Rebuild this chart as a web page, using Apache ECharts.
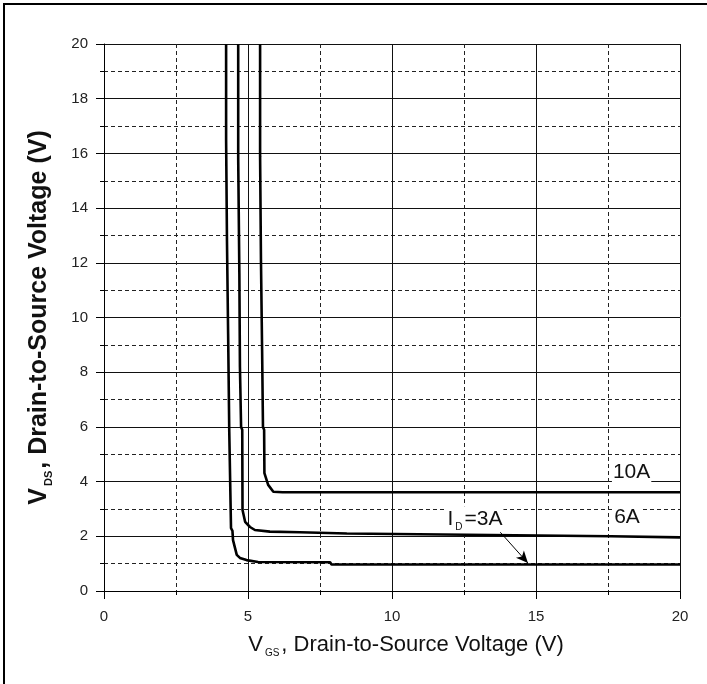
<!DOCTYPE html>
<html>
<head>
<meta charset="utf-8">
<script src="https://cdn.jsdelivr.net/npm/echarts@6/dist/echarts.min.js"></script>
<style>html,body{margin:0;padding:0;background:#fff}#c{width:707px;height:684px}</style>
</head>
<body>
<div id="c"></div>
<script>
// ---- data ----
const xTicks = [0, 5, 10, 15, 20];
const yTicks = [0, 2, 4, 6, 8, 10, 12, 14, 16, 18, 20];
const seriesNames = ['3A', '6A', '10A'];
// [VGS, VDS] points
const curve3A = [[4.24,20],[4.24,16.5],[4.27,16.5],[4.27,12.8],[4.31,12.8],[4.31,9.4],[4.35,9.4],[4.35,5.8],[4.41,5.8],[4.41,2.3],[4.46,2.2],[4.48,1.86],[4.61,1.32],[4.72,1.21],[4.95,1.13],[5.35,1.06],[7.85,1.05],[7.9,0.97],[20,0.97]];
const curve6A = [[4.66,20],[4.66,15.8],[4.70,15.8],[4.70,11.6],[4.72,11.6],[4.72,8.2],[4.76,8.2],[4.76,6.0],[4.80,5.9],[4.81,2.96],[4.90,2.53],[5.07,2.34],[5.24,2.23],[5.76,2.17],[6.8,2.15],[6.8,2.12],[8.43,2.1],[8.45,2.03],[17.6,2.0],[17.6,1.96],[20,1.96]];
const curve10A = [[5.42,20],[5.42,15.9],[5.45,15.9],[5.45,12.1],[5.49,12.1],[5.49,8.8],[5.52,8.8],[5.52,6.0],[5.56,5.9],[5.57,4.31],[5.70,3.88],[5.88,3.63],[6.2,3.61],[20,3.61]];
const curves = [curve3A, curve6A, curve10A];

const FONT = "'Liberation Sans Narrow', 'Arial Narrow', 'Liberation Sans', Arial, sans-serif";
const chart = echarts.init(document.getElementById('c'), null, {renderer: 'canvas'});

function axisCommon(ticks) {
  return {
    type: 'value',
    min: ticks[0],
    max: ticks[ticks.length - 1],
    interval: ticks[1] - ticks[0],
    axisLine: {show: true, lineStyle: {color: '#000', width: 1}},
    axisTick: {show: true, inside: false, length: 8, lineStyle: {color: '#000', width: 1}},
    minorTick: {show: true, splitNumber: 2, length: 4, lineStyle: {color: '#000', width: 1}},
    splitLine: {show: true, lineStyle: {color: '#111', width: 1, type: 'solid'}},
    minorSplitLine: {show: true, lineStyle: {color: '#222', width: 1, type: [4, 3]}},
    axisLabel: {color: '#222', fontSize: 15, fontFamily: FONT}
  };
}

const labelMarks = [
  {coord: [18.32, 4.35], text: '10A'},
  {coord: [18.16, 2.71], text: '6A'},
  {coord: [12.88, 2.62], text: '{m|I}{s|D}{m|=3A}'}
];

const series = curves.map((c, i) => ({
  name: seriesNames[i],
  type: 'line',
  data: c,
  showSymbol: false,
  symbol: 'none',
  lineStyle: {color: '#000', width: 2.6},
  z: 3
}));

series.push({
  type: 'line',
  data: [],
  markPoint: {
    symbol: 'circle',
    symbolSize: 1,
    itemStyle: {color: 'rgba(0,0,0,0)'},
    label: {
      show: true,
      position: 'inside',
      color: '#111',
      fontSize: 21,
      fontFamily: FONT,
      backgroundColor: '#fff',
      padding: [0, 1, 0, 1],
      formatter: p => p.data.text,
      rich: {
        m: {fontSize: 21, fontFamily: FONT, color: '#111'},
        s: {fontSize: 10, fontFamily: FONT, color: '#111', padding: [16, 2, 0, 2]}
      }
    },
    data: labelMarks.map(l => ({coord: l.coord, text: l.text}))
  },
  markLine: {
    silent: true,
    symbol: ['none', 'arrow'],
    symbolSize: [8, 12],
    lineStyle: {color: '#000', width: 1, type: 'solid'},
    label: {show: false},
    data: [[{coord: [13.75, 2.16]}, {coord: [14.72, 1.02]}]]
  },
  z: 5
});

const option = {
  animation: false,
  backgroundColor: '#fff',
  grid: {left: 104, right: 27, top: 44, bottom: 93, containLabel: false},
  xAxis: Object.assign(axisCommon(xTicks), {
    name: '{m|V}{s|GS}{m|, Drain-to-Source Voltage (V)}',
    nameLocation: 'middle',
    nameGap: 40,
    axisLabel: {color: '#222', fontSize: 15, fontFamily: FONT, margin: 18},
    nameTextStyle: {
      padding: [0, 0, 0, 28],
      rich: {
        m: {fontSize: 22, fontFamily: FONT, color: '#111'},
        s: {fontSize: 10, fontFamily: FONT, color: '#111', padding: [17, 2, 0, 2]}
      }
    }
  }),
  yAxis: Object.assign(axisCommon(yTicks), {
    name: '{m|V}{s|DS}{m|, Drain-to-Source Voltage (V)}',
    nameLocation: 'middle',
    nameGap: 50,
    axisLabel: {color: '#222', fontSize: 15, fontFamily: FONT, margin: 16},
    nameTextStyle: {
      rich: {
        m: {fontSize: 25, fontWeight: 'bold', fontFamily: FONT, color: '#111'},
        s: {fontSize: 11, fontWeight: 'bold', fontFamily: FONT, color: '#111', padding: [18, 2, 0, 2]}
      }
    }
  }),
  graphic: [{
    type: 'rect',
    shape: {x: 4, y: 4, width: 760, height: 760},
    style: {fill: 'none', stroke: '#000', lineWidth: 2},
    silent: true
  }],
  series: series
};
chart.setOption(option);
</script>
</body>
</html>
